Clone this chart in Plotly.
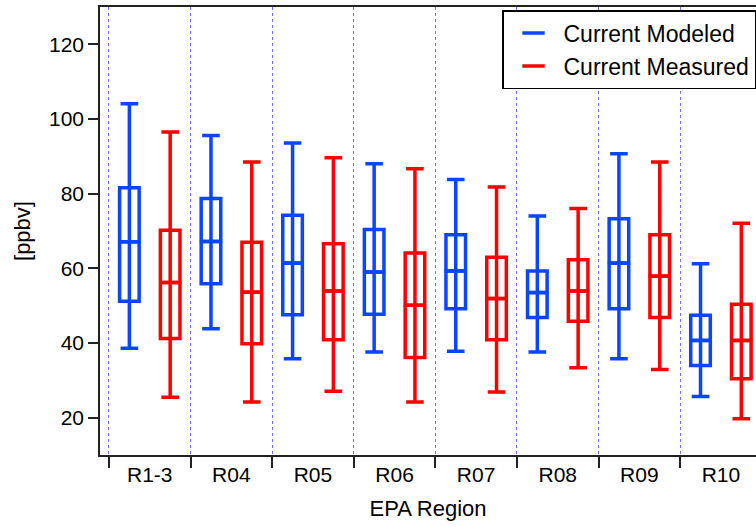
import plotly.graph_objects as go

regions = ["R1-3", "R04", "R05", "R06", "R07", "R08", "R09", "R10"]

mod_min = [38.6, 43.8, 35.8, 37.6, 37.8, 37.6, 35.8, 25.7]
mod_q1 = [51.2, 55.9, 47.6, 47.7, 49.2, 46.8, 49.2, 34.0]
mod_med = [67.1, 67.2, 61.4, 59.0, 59.3, 53.5, 61.4, 40.7]
mod_q3 = [81.6, 78.7, 74.2, 70.4, 69.0, 59.3, 73.3, 47.4]
mod_max = [104.1, 95.6, 93.6, 88.0, 83.8, 74.0, 90.7, 61.2]

mea_min = [25.5, 24.2, 27.1, 24.2, 26.9, 33.4, 32.9, 19.7]
mea_q1 = [41.2, 39.8, 40.9, 36.1, 40.9, 45.8, 46.8, 30.4]
mea_med = [56.2, 53.6, 53.9, 50.1, 51.9, 53.9, 57.9, 40.7]
mea_q3 = [70.2, 67.0, 66.6, 64.1, 63.0, 62.3, 69.0, 50.4]
mea_max = [96.5, 88.5, 89.6, 86.7, 81.8, 76.0, 88.5, 72.1]

y_ticks = [20, 40, 60, 80, 100, 120]

BLUE = "#0a46ff"
RED = "#ff0000"
FONT = "Liberation Sans, Arial, sans-serif"

series = [
    ("Current Modeled", BLUE, -0.25, mod_min, mod_q1, mod_med, mod_q3, mod_max),
    ("Current Measured", RED, 0.25, mea_min, mea_q1, mea_med, mea_q3, mea_max),
]

fig = go.Figure()
for name, color, off, lo, q1, med, q3, hi in series:
    xs = [i + off for i in range(len(regions))]
    fig.add_trace(go.Box(
        x=xs, q1=q1, median=med, q3=q3, lowerfence=lo, upperfence=hi,
        width=0.24, whiskerwidth=0.9, boxpoints=False,
        line=dict(color=color, width=3.5), fillcolor="rgba(0,0,0,0)",
        showlegend=False, name=name,
    ))
    # legend entry: short dash at the median
    fig.add_trace(go.Scatter(
        x=xs, y=med, mode="markers", name=name,
        marker=dict(symbol="line-ew", size=16, color=color,
                    line=dict(color=color, width=3.5)),
    ))
    # the whisker continues through the box (q1 -> q3), in data coordinates
    for x, a, b in zip(xs, q1, q3):
        fig.add_shape(type="line", xref="x", yref="y",
                      x0=x, x1=x, y0=a, y1=b,
                      line=dict(color=color, width=3.5))

fig.update_layout(
    width=756, height=527,
    margin=dict(l=100, r=0, t=7, b=72),
    paper_bgcolor="white", plot_bgcolor="white",
    font=dict(family=FONT, size=21, color="black"),
    boxmode="overlay",
    showlegend=True,
    legend=dict(
        x=1.0, y=0.993, xanchor="right", yanchor="top",
        bgcolor="white", bordercolor="black", borderwidth=1.5,
        font=dict(size=23, family=FONT), tracegroupgap=0,
        itemwidth=50,
    ),
    xaxis=dict(
        range=[-0.61, 7.43],
        tickmode="array", tickvals=list(range(len(regions))), ticktext=regions,
        ticks="",
        showline=True, linecolor="#222", linewidth=1.5, mirror=True,
        showgrid=False, zeroline=False,
        minor=dict(
            tickmode="array", tickvals=[i - 0.5 for i in range(len(regions))],
            ticks="outside", ticklen=11, tickcolor="#222", tickwidth=1.5,
            showgrid=True, griddash="dot", gridcolor="#7070ff", gridwidth=1,
        ),
        title=dict(text="EPA Region", font=dict(size=22), standoff=16),
    ),
    yaxis=dict(
        range=[10, 130], tickmode="array", tickvals=y_ticks,
        ticks="outside", ticklen=10, tickcolor="#222", tickwidth=1.5,
        showline=True, linecolor="#222", linewidth=1.5,
        showgrid=False, zeroline=False,
        title=dict(text="[ppbv]", font=dict(size=22), standoff=12),
    ),
)

fig.write_html("out.html")
